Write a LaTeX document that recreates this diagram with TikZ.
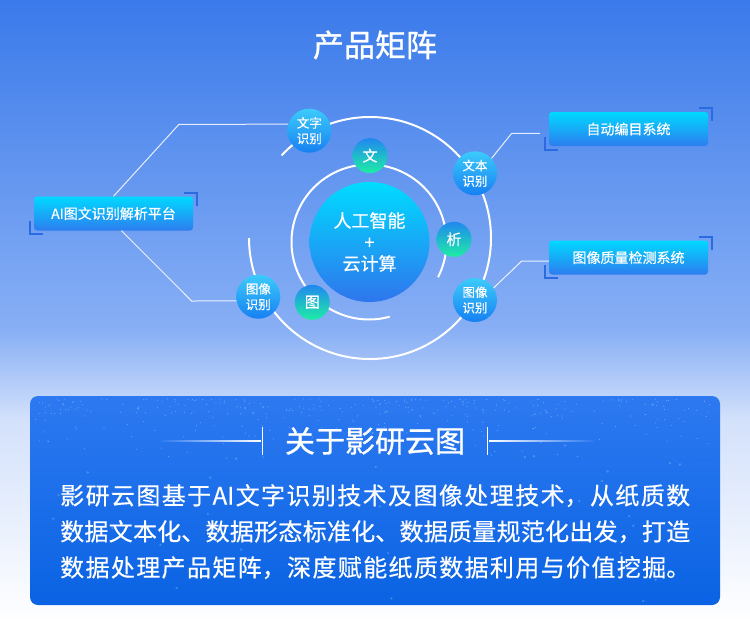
\documentclass[tikz,border=0pt]{standalone}
\usepackage{fontspec}
\setmainfont{Noto Sans CJK SC}
\newfontfamily\hdfont[FakeBold=0.9]{Noto Sans CJK SC}
\newfontfamily\bdfont[FakeBold=0.4]{Noto Sans CJK SC}
\XeTeXlinebreaklocale "zh"
\XeTeXlinebreakskip=0pt plus 2pt
\usetikzlibrary{calc}

\definecolor{bgtop}{HTML}{3A7AEA}
\definecolor{bgmid}{HTML}{88AFF5}
\definecolor{bglow}{HTML}{D3E1FB}
\definecolor{boxtop}{HTML}{00D9FF}
\definecolor{boxbot}{HTML}{2D7DEF}
\definecolor{orbtop}{HTML}{3CCBFB}
\definecolor{orbbot}{HTML}{1680F2}
\definecolor{chartop}{HTML}{2088F0}
\definecolor{charbot}{HTML}{1EEDA4}
\definecolor{coretop}{HTML}{00DCFF}
\definecolor{corebot}{HTML}{2F75ED}
\definecolor{paneltop}{HTML}{2D79F1}
\definecolor{panelbot}{HTML}{0A63E3}
\definecolor{brkblue}{HTML}{2B6BE2}

\begin{document}
\begin{tikzpicture}[
  x=1pt, y=1pt,
  sys/.style={rounded corners=3pt, top color=boxtop, bottom color=boxbot,
    text=white, minimum width=159pt, minimum height=34pt, inner sep=0pt,
    font=\bdfont\fontsize{14}{16}\selectfont},
  orb/.style={circle, top color=orbtop, bottom color=orbbot, text=white,
    minimum size=44pt, inner sep=0pt, align=center,
    font=\bdfont\fontsize{12.5}{15.5}\selectfont},
  glyph/.style={circle, top color=chartop, bottom color=charbot, text=white,
    minimum size=35pt, inner sep=0pt, font=\bdfont\fontsize{15}{17}\selectfont},
  core/.style={circle, top color=coretop, bottom color=corebot, text=white,
    minimum size=120pt, inner sep=0pt, align=center,
    font=\bdfont\fontsize{18}{21.5}\selectfont},
  ring/.style={white, line width=2pt},
  link/.style={white, opacity=.85, line width=1pt},
  brk/.style={brkblue, line width=2pt}
]
\useasboundingbox (0,0) rectangle (750,-622);

% background
\shade[top color=bgtop, bottom color=bgmid] (0,0) rectangle (750,-330);
\shade[top color=bgmid, bottom color=bglow] (0,-330) rectangle (750,-420);
\shade[top color=bglow, bottom color=white] (0,-420) rectangle (750,-622);

\node[text=white, font=\hdfont\fontsize{31}{34}\selectfont] (title) at (375,-45) {产品矩阵};

% orbits
\coordinate (c0) at (369,-242);
\coordinate (c1) at (370,-238);
\draw[ring] ([shift={(-27:77.5)}]c0) arc[start angle=-27, end angle=285.5, radius=77.5];
\draw[ring] ([shift={(180:121)}]c1) arc[start angle=180, end angle=497, radius=121];

\node[core] (core) at (369.5,-242) {人工智能\\+\\云计算};

\node[glyph] (wen) at (370,-155.6) {文};
\node[glyph] (xi)  at (454,-239.3) {析};
\node[glyph] (tu)  at (312.3,-302.3) {图};

\node[sys] (plat) at (113.5,-213.5) {AI图文识别解析平台};
\node[sys] (bmxt) at (628.5,-129) {自动编目系统};
\node[sys] (zlxt) at (628.5,-257.5) {图像质量检测系统};

\node[orb] (wzsb)  at (309.3,-130.7) {文字\\识别};
\node[orb] (wbsb)  at (475,-173.3) {文本\\识别};
\node[orb] (txsbL) at (258.3,-296.7) {图像\\识别};
\node[orb] (txsbR) at (475,-300) {图像\\识别};

\coordinate (bmEnd) at ([xshift=-9pt, yshift=-4.3pt]bmxt.west);
\coordinate (zlEnd) at ([yshift=-3.5pt]zlxt.west);

\draw[link] (plat.north) -- (179,-124.3) -- (wzsb.163);
\draw[link] ([xshift=8pt]plat.south) -- (191.7,-301) -- (txsbL.191);
\draw[link] (wbsb.42) -- (511.7,-133.3) -- (bmEnd);
\draw[link] (txsbR.33) -- (521.7,-261) -- (zlEnd);

% corner marks
\foreach \b in {plat, bmxt, zlxt} {
  \draw[brk] ([shift={(-9.5,3.5)}]\b.north east) -- ++(13,0) -- ++(0,-13);
  \draw[brk] ([shift={(-3.5,9.5)}]\b.south west) -- ++(0,-13) -- ++(13,0);
}

% about panel
\shade[top color=paneltop, bottom color=panelbot, rounded corners=8pt]
  (30,-396) rectangle (720,-605);
\begin{scope}
  \clip[rounded corners=8pt] (30,-396) rectangle (720,-605);
  \pgfmathsetseed{11}
  \foreach \i in {1,...,320} {
    \pgfmathsetmacro{\px}{35+680*rnd}
    \pgfmathsetmacro{\py}{-399-70*rnd*rnd}
    \fill[white, opacity=.3] (\px,\py) circle (.6);
  }
  \foreach \i in {1,...,45} {
    \pgfmathsetmacro{\px}{35+680*rnd}
    \pgfmathsetmacro{\py}{-400-205*rnd}
    \fill[white, opacity=.2] (\px,\py) circle (1.3);
  }
\end{scope}

\node[text=white, font=\hdfont\fontsize{30}{33}\selectfont, inner xsep=22pt,
  inner ysep=0pt, minimum height=27pt] (about) at (375,-441) {关于影研云图};
\draw[white, line width=1.2pt] (about.north west) -- (about.south west);
\draw[white, line width=1.2pt] (about.north east) -- (about.south east);
\shade[left color=paneltop, right color=white]
  ([xshift=-102pt, yshift=-.7pt]about.west) rectangle ([xshift=-2pt, yshift=.7pt]about.west);
\shade[left color=white, right color=paneltop]
  ([xshift=2pt, yshift=-.7pt]about.east) rectangle ([xshift=106pt, yshift=.7pt]about.east);

\node[text=white, anchor=base west, inner sep=0pt, text width=630pt, align=justify,
  font=\bdfont\fontsize{24}{36}\selectfont] (intro) at (60,-504.5)
  {\parfillskip=0pt 影研云图基于AI文字识别技术及图像处理技术，从纸质数\linebreak
   数据文本化、数据形态标准化、数据质量规范化出发，打造\linebreak
   数据处理产品矩阵，深度赋能纸质数据利用与价值挖掘。\par};
\end{tikzpicture}
\end{document}
